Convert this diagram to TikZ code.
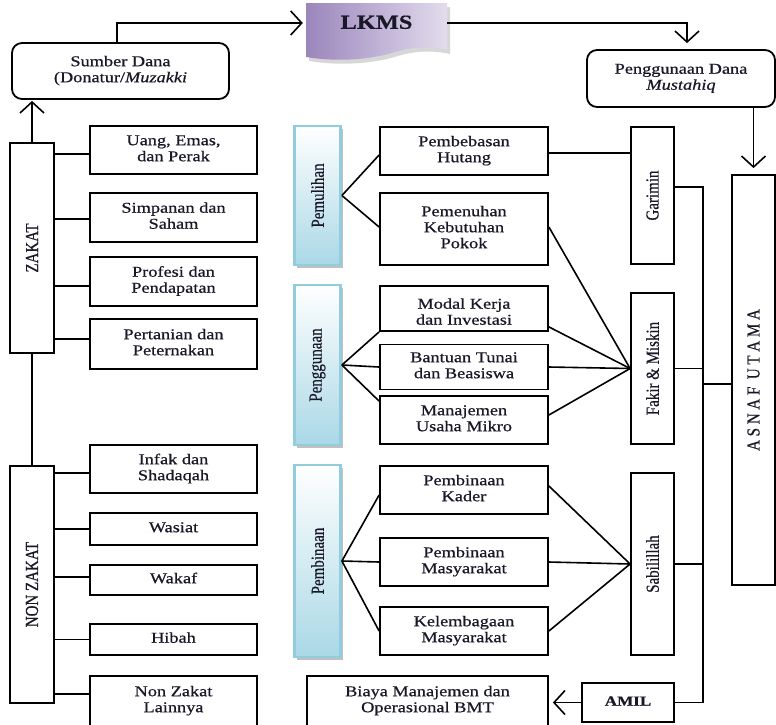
\documentclass[tikz,border=0pt]{standalone}
\usepackage{fontspec}
\usepackage{graphicx}
\setmainfont[FakeBold=0.6]{Liberation Serif}
\usetikzlibrary{arrows.meta,shadows,calc}

% horizontal labels are set wide, upright (rotated) labels tall and narrow
\newcommand\W[1]{\scalebox{1.22}[1]{\begin{tabular}{@{}c@{}}#1\end{tabular}}}
\newcommand\V[1]{\rotatebox{90}{\scalebox{1}[1.22]{#1}}}

\definecolor{ink}{RGB}{24,24,40}
\definecolor{bluebrd}{RGB}{146,205,222}
\definecolor{bluefill}{RGB}{170,216,230}
\definecolor{lkmsdark}{RGB}{155,134,188}
\definecolor{lkmslight}{RGB}{226,220,237}

\tikzset{
  txt/.style={text=ink, align=center, inner sep=0pt,
              font=\fontsize{15}{16}\selectfont},
  box/.style={txt, draw=black, line width=1.8pt},
  itembox/.style={box, minimum width=167pt},
  midbox/.style={box, minimum width=168pt},
  rbox/.style={box, rounded corners=10pt},
  vbox/.style={draw=black, line width=1.8pt, inner sep=0pt, text=ink,
               font=\fontsize{15}{16}\selectfont},
  bluebox/.style={vbox, draw=bluebrd, line width=2.8pt,
                  top color=white, bottom color=bluefill,
                  drop shadow={shadow xshift=2.5pt, shadow yshift=-2.5pt,
                               opacity=.45, fill=black!55},
                  minimum width=46pt},
  link/.style={line width=1.6pt, draw=black},
  arr/.style={link, -{Straight Barb[length=11pt,width=24pt,line width=1.6pt]}},
}

\begin{document}
\begin{tikzpicture}[x=1pt,y=-1pt]
\useasboundingbox (0,0) rectangle (776,724);
\clip (0,0) rectangle (776,724);

% ---------- top: sources, LKMS, use of funds ----------
\node[rbox, minimum width=217pt, minimum height=56pt] (sumber) at (120.5,71)
  {\W{Sumber Dana\\(Donatur/\textit{Muzakki}}};

% LKMS banner with a wavy lower edge
\fill[black!45, opacity=.35]
  (309,7) -- (450,7) -- (450,54)
  .. controls (432,50) and (414,51) .. (398,56)
  .. controls (372,64) and (340,66) .. (309,61) -- cycle;
\shade[left color=lkmsdark, right color=lkmslight]
  (306,3) -- (447,3) -- (447,50)
  .. controls (429,46) and (411,47) .. (395,52)
  .. controls (369,60) and (337,62) .. (306,57) -- cycle;
\node[txt, font=\bfseries\fontsize{20}{24}\selectfont,
      minimum width=141pt, minimum height=40pt] (lkms) at (376.5,24) {\W{LKMS}};

\node[rbox, minimum width=188pt, minimum height=57pt] (pdana) at (681,78.5)
  {\W{Penggunaan Dana\\\textit{Mustahiq}}};

\draw[arr, shorten >=3pt] ([xshift=-3.5pt]sumber.north) |- ([yshift=1pt]lkms.west);
\draw[arr, shorten >=6pt] ([yshift=1pt]lkms.east) -| ([xshift=6pt]pdana.north);

% ---------- left: zakat and non zakat sources ----------
\node[vbox, minimum width=44pt, minimum height=210pt] (zakat) at (32,248) {\V{ZAKAT}};
\node[vbox, minimum width=44pt, minimum height=237pt] (nonzakat) at (32,584.5) {\V{NON ZAKAT}};
\draw[arr, shorten >=1pt] (zakat.north) -- (zakat.north |- sumber.south);
\draw[link] (zakat.south) -- (nonzakat.north);

\node[itembox, minimum height=48pt] (uang)      at (173.5,150)   {\W{Uang, Emas,\\dan Perak}};
\node[itembox, minimum height=49pt] (simpanan)  at (173.5,217.5) {\W{Simpanan dan\\Saham}};
\node[itembox, minimum height=49pt] (profesi)   at (173.5,281.5) {\W{Profesi dan\\Pendapatan}};
\node[itembox, minimum height=50pt] (pertanian) at (173.5,344)   {\W{Pertanian dan\\Peternakan}};
\node[itembox, minimum height=48pt] (infak)     at (173.5,469)   {\W{Infak dan\\Shadaqah}};
\node[itembox, minimum height=32pt] (wasiat)    at (173.5,529)   {\W{Wasiat}};
\node[itembox, minimum height=30pt] (wakaf)     at (173.5,580)   {\W{Wakaf}};
\node[itembox, minimum height=31pt] (hibah)     at (173.5,639.5) {\W{Hibah}};
\node[itembox, minimum height=64pt] (lainnya)   at (173.5,708)   {};
\node[txt] (lainnyatxt) at (173.5,701) {\W{Non Zakat\\Lainnya}};

\draw[link] ([yshift=-4pt]uang.west -| zakat.east)      -- ([yshift=-4pt]uang.west);
\draw[link] ([yshift=-1.5pt]simpanan.west -| zakat.east) -- ([yshift=-1.5pt]simpanan.west);
\draw[link] ([yshift=-4.5pt]profesi.west -| zakat.east) -- ([yshift=-4.5pt]profesi.west);
\draw[link] ([yshift=5pt]pertanian.west -| zakat.east)  -- ([yshift=5pt]pertanian.west);
\draw[link] ([yshift=-4pt]infak.west -| nonzakat.east)  -- ([yshift=-4pt]infak.west);
\draw[link] (wasiat.west -| nonzakat.east)              -- (wasiat.west);
\draw[link] ([yshift=3pt]wakaf.west -| nonzakat.east)   -- ([yshift=3pt]wakaf.west);
\draw[link] (hibah.west -| nonzakat.east)               -- (hibah.west);
\draw[link] ([yshift=14pt]lainnya.west -| nonzakat.east) -- ([yshift=14pt]lainnya.west);

% ---------- middle: programme groups ----------
\node[bluebox, minimum height=139pt] (pemulihan) at (317.5,195.5) {\V{Pemulihan}};
\node[bluebox, minimum height=160pt] (penggunaan) at (317.5,365) {\V{Penggunaan}};
\node[bluebox, minimum height=192pt] (pembinaan) at (317.5,561) {\V{Pembinaan}};

\node[midbox, minimum height=48pt] (hutang) at (464,151)   {\W{Pembebasan\\Hutang}};
\node[midbox, minimum height=72pt] (pokok)  at (464,229)   {\W{Pemenuhan\\Kebutuhan\\Pokok}};
\node[midbox, minimum height=45pt] (modal)  at (464,308.5) {};
\begin{scope}
  \clip (modal.north west) rectangle ([yshift=6pt]modal.south east);
  \node[txt] (modaltxt) at ([yshift=-5pt]modal.center) {\W{Modal Kerja\\dan Investasi}};
\end{scope}
\node[midbox, minimum height=45pt] (bantuan) at (464,367)  {\W{Bantuan Tunai\\dan Beasiswa}};
\node[midbox, minimum height=48pt] (usaha)   at (464,420)  {\W{Manajemen\\Usaha Mikro}};
\node[midbox, minimum height=48pt] (kader)   at (464,490)  {\W{Pembinaan\\Kader}};
\node[midbox, minimum height=48pt] (masy)    at (464,562)  {\W{Pembinaan\\Masyarakat}};
\node[midbox, minimum height=48pt] (lembaga) at (464,631)  {\W{Kelembagaan\\Masyarakat}};
\node[box, minimum width=241pt, minimum height=64pt] (biaya) at (427.5,708) {};
\node[txt] (biayatxt) at (427.5,701) {\W{Biaya Manajemen dan\\Operasional BMT}};

\draw[link] (pemulihan.east) -- ([yshift=-4pt]hutang.west);
\draw[link] (pemulihan.east) -- ([yshift=2pt]pokok.west);
\draw[link] (penggunaan.east) -- (modal.south west);
\draw[link] (penggunaan.east) -- (bantuan.west);
\draw[link] (penggunaan.east) -- ([yshift=-6pt]usaha.north west);
\draw[link] (pembinaan.east) -- ([yshift=-5pt]kader.west);
\draw[link] (pembinaan.east) -- (masy.west);
\draw[link] (pembinaan.east) -- (lembaga.west);

% ---------- right: asnaf ----------
\node[vbox, minimum width=43pt, minimum height=137pt] (garimin) at (652.5,195.5) {\V{Garimin}};
\node[vbox, minimum width=43pt, minimum height=151pt] (fakir)   at (652.5,368.5) {\V{Fakir \& Miskin}};
\node[vbox, minimum width=43pt, minimum height=182pt] (sabil)   at (652.5,564)   {\V{Sabilillah}};
\node[box, font=\bfseries\fontsize{14}{16}\selectfont,
      minimum width=92pt, minimum height=39pt] (amil) at (628,702.5) {\W{AMIL}};
\node[vbox, minimum width=43pt, minimum height=410pt] (asnaf) at (753.5,380)
  {\V{A S N A F \ U T A M A}};

\draw[arr, shorten >=6pt] (pdana.south -| asnaf.north) -- (asnaf.north);

\draw[link] ([yshift=-2pt]hutang.east) -- ([yshift=-2pt]hutang.east -| garimin.west);
\draw[link] ([yshift=2pt]pokok.east) -- (fakir.west);
\draw[link] ([yshift=5pt]modal.south east) -- (fakir.west);
\draw[link] (bantuan.east) -- (fakir.west);
\draw[link] ([yshift=5pt]usaha.east) -- (fakir.west);
\draw[link] ([yshift=4pt]kader.east) -- (sabil.west);
\draw[link] (masy.east) -- (sabil.west);
\draw[link] (lembaga.east) -- (sabil.west);

\coordinate (bus) at (703,0);
\draw[link] ([yshift=8.5pt]garimin.east) -| (bus |- amil.east) -- (amil.east);
\draw[link] (fakir.east) -- (bus |- fakir.east);
\draw[link] ([xshift=-1pt]sabil.east) -- (bus |- sabil.east);
\draw[link] ([yshift=-4pt]asnaf.west -| bus) -- ([yshift=-4pt]asnaf.west);
\draw[arr, shorten >=4pt] (amil.west) -- (amil.west -| biaya.east);
\end{tikzpicture}
\end{document}
